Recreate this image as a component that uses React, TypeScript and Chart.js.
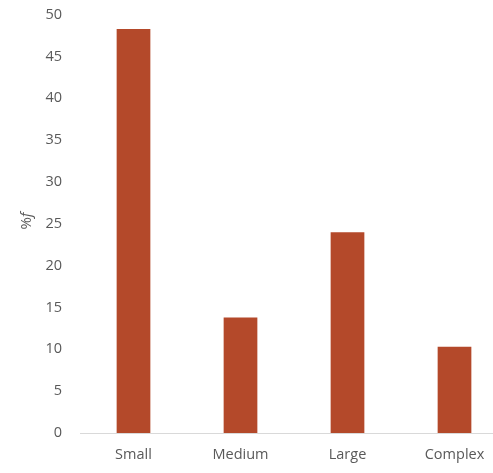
import React, { useEffect, useRef } from "react";
import { Chart, registerables } from "chart.js";

Chart.register(...registerables);

const categories = ["Small", "Medium", "Large", "Complex"];
const frequencies = [48.3, 13.8, 24.0, 10.3];
const yTicks = [0, 5, 10, 15, 20, 25, 30, 35, 40, 45, 50];
const yTitleParts = [
  { text: "%", italic: false },
  { text: "f", italic: true },
];

const FONT = "'Open Sans', Lato, sans-serif";
const TEXT = "#595959";
const BAR = "#B4492A";
const SHIFT = 12;

// Draws the rotated y-axis title with the "f" in italics.
const yTitlePlugin = {
  id: "yTitle",
  afterDraw(chart: Chart) {
    const { ctx } = chart;
    ctx.save();
    ctx.translate(27, 221 + SHIFT);
    ctx.rotate(-Math.PI / 2);
    ctx.fillStyle = TEXT;
    ctx.textBaseline = "middle";
    const fonts = yTitleParts.map(
      (p) => `${p.italic ? "italic " : ""}15px ${FONT}`
    );
    let total = 0;
    yTitleParts.forEach((p, i) => {
      ctx.font = fonts[i];
      total += ctx.measureText(p.text).width;
    });
    let x = -total / 2;
    yTitleParts.forEach((p, i) => {
      ctx.font = fonts[i];
      ctx.textAlign = "left";
      ctx.fillText(p.text, x, 0);
      x += ctx.measureText(p.text).width;
    });
    ctx.restore();
  },
};

export default function App() {
  const ref = useRef<HTMLCanvasElement>(null);

  useEffect(() => {
    if (!ref.current) return;
    const chart = new Chart(ref.current, {
      type: "bar",
      data: {
        labels: categories,
        datasets: [
          {
            data: frequencies,
            backgroundColor: BAR,
            borderWidth: 0,
            barPercentage: 1,
            categoryPercentage: 0.315,
          },
        ],
      },
      options: {
        animation: false,
        responsive: false,
        maintainAspectRatio: false,
        layout: { padding: { top: 0, right: 12, left: 0, bottom: 0 } },
        plugins: {
          legend: { display: false },
          tooltip: { enabled: false },
        },
        scales: {
          x: {
            grid: { display: false, drawTicks: false },
            border: { display: true, color: "#d9d9d9", width: 1 },
            ticks: {
              color: TEXT,
              font: { family: FONT, size: 14.5 },
              padding: 13,
            },
            afterFit(scale: any) {
              scale.height = 40;
            },
          },
          y: {
            min: 0,
            max: 50,
            afterBuildTicks(scale: any) {
              scale.ticks = yTicks.map((v) => ({ value: v }));
            },
            grid: { display: false, drawTicks: false },
            border: { display: false },
            ticks: {
              color: TEXT,
              font: { family: FONT, size: 14.5 },
              padding: 18,
            },
            afterFit(scale: any) {
              scale.width = 80;
            },
          },
        },
      },
      plugins: [yTitlePlugin],
    });
    return () => chart.destroy();
  }, []);

  return (
    <div
      style={{
        position: "fixed",
        left: 0,
        top: 0,
        width: 493,
        height: 473,
        overflow: "hidden",
        background: "#fff",
      }}
    >
      <canvas
        ref={ref}
        width={520}
        height={473 + SHIFT}
        style={{ display: "block", marginTop: -SHIFT }}
      />
    </div>
  );
}
